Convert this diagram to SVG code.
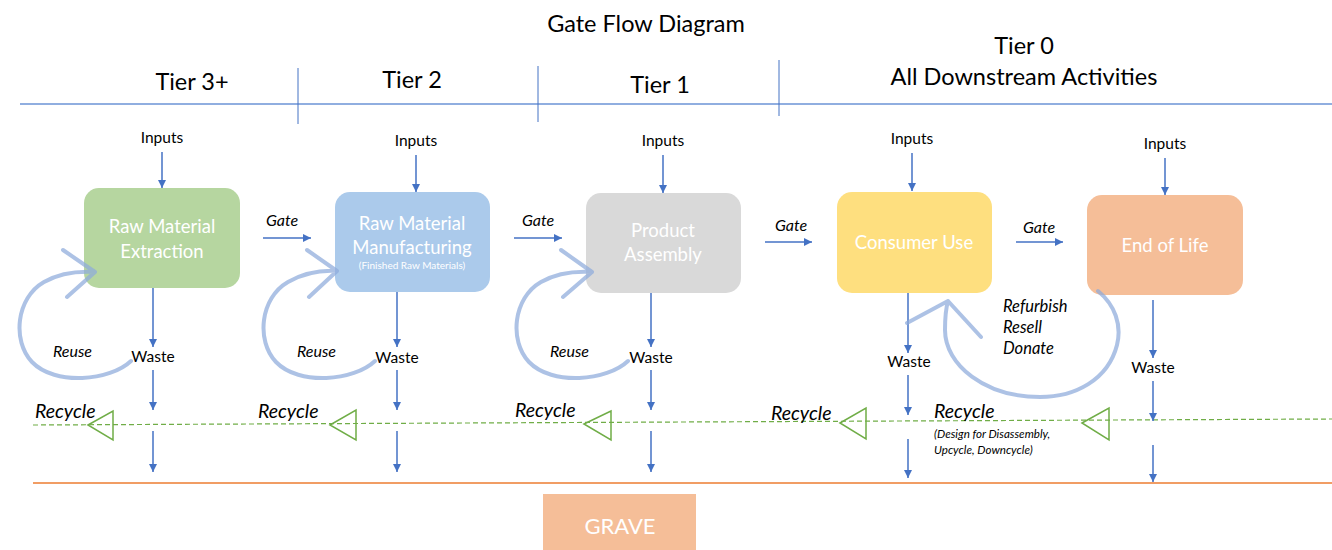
<svg xmlns="http://www.w3.org/2000/svg" width="1332" height="550" viewBox="0 0 1332 550">
<defs>
<marker id="ah" viewBox="0 0 8 8" refX="8" refY="4" markerWidth="8" markerHeight="8" markerUnits="userSpaceOnUse" orient="auto"><path d="M0,0 L8,4 L0,8 z" fill="#4472c4"/></marker>
<style>
text{font-family:Lato,"Open Sans","Liberation Sans",sans-serif}
.hdr{font-size:23.5px;fill:#000;text-anchor:middle}
.lbl{font-size:15.5px;fill:#000;text-anchor:middle}
.it{font-style:italic;fill:#000}
.box{font-size:18.5px;fill:#fff;text-anchor:middle}
.arr{stroke:#4472c4;stroke-width:1.5;fill:none;marker-end:url(#ah)}
.loop{stroke:#8eaadb;stroke-width:4;fill:none;opacity:0.72;stroke-linecap:round;stroke-linejoin:round}
.tri{fill:none;stroke:#70ad47;stroke-width:1.5}
.div{stroke:#4472c4;stroke-width:1}
</style>
</defs>
<rect width="1332" height="550" fill="#fff"/>

<g id="header">
<text class="hdr" x="646" y="32">Gate Flow Diagram</text>
<text class="hdr" x="192" y="90">Tier 3+</text>
<text class="hdr" x="412" y="88">Tier 2</text>
<text class="hdr" x="660" y="93">Tier 1</text>
<text class="hdr" x="1024" y="54">Tier 0</text>
<text class="hdr" x="1024" y="85">All Downstream Activities</text>
<line x1="20" y1="104" x2="1332" y2="104" stroke="#6b93d6" stroke-width="1.5"/>
<line class="div" x1="298" y1="68" x2="298" y2="124"/>
<line class="div" x1="538" y1="66" x2="538" y2="122"/>
<line class="div" x1="779" y1="60" x2="779" y2="116"/>
<line x1="33" y1="483" x2="1332" y2="483" stroke="#ed7d31" stroke-width="1.3"/>
<line x1="33" y1="425" x2="1332" y2="419" stroke="#70ad47" stroke-width="1.2" stroke-dasharray="5,3"/>
</g>

<g id="node-extraction">
<rect x="84" y="188" width="156" height="100" rx="15" fill="#b6d6a0"/>
<text class="box" x="162" y="233">Raw Material</text>
<text class="box" x="162" y="258">Extraction</text>
</g>
<g id="node-manufacturing">
<rect x="335" y="192" width="155" height="100" rx="15" fill="#abcaeb"/>
<text class="box" x="412" y="230">Raw Material</text>
<text class="box" x="412" y="254">Manufacturing</text>
<text x="412" y="269" font-size="10" fill="#fff" text-anchor="middle">(Finished Raw Materials)</text>
</g>
<g id="node-assembly">
<rect x="586" y="193" width="155" height="100" rx="15" fill="#d9d9d9"/>
<text class="box" x="663" y="237">Product</text>
<text class="box" x="663" y="261">Assembly</text>
</g>
<g id="node-consumer">
<rect x="837" y="192" width="155" height="101" rx="15" fill="#fedf7f"/>
<text class="box" x="914" y="249">Consumer Use</text>
</g>
<g id="node-eol">
<rect x="1087" y="195" width="156" height="100" rx="15" fill="#f5be98"/>
<text class="box" x="1165" y="252">End of Life</text>
</g>
<g id="node-grave">
<rect x="543" y="494" width="153" height="56" fill="#f5be98"/>
<text x="620" y="534" font-size="22" fill="#fff" text-anchor="middle">GRAVE</text>
</g>

<g id="labels">
<text class="lbl" x="162" y="143">Inputs</text>
<text class="lbl" x="416" y="146">Inputs</text>
<text class="lbl" x="663" y="146">Inputs</text>
<text class="lbl" x="912" y="144">Inputs</text>
<text class="lbl" x="1165" y="149">Inputs</text>
<text class="lbl" x="153" y="362">Waste</text>
<text class="lbl" x="397" y="363">Waste</text>
<text class="lbl" x="651" y="363">Waste</text>
<text class="lbl" x="909" y="367">Waste</text>
<text class="lbl" x="1153" y="373">Waste</text>
<text class="it" x="266" y="226" font-size="16">Gate</text>
<text class="it" x="522" y="226" font-size="16">Gate</text>
<text class="it" x="775" y="231" font-size="16">Gate</text>
<text class="it" x="1023" y="233" font-size="16">Gate</text>
<text class="it" x="53" y="357" font-size="16">Reuse</text>
<text class="it" x="297" y="357" font-size="16">Reuse</text>
<text class="it" x="550" y="357" font-size="16">Reuse</text>
<text class="it" x="1003" y="312" font-size="16.5">Refurbish</text>
<text class="it" x="1003" y="333" font-size="16.5">Resell</text>
<text class="it" x="1003" y="354" font-size="16.5">Donate</text>
<text class="it" x="35" y="418" font-size="19.5">Recycle</text>
<text class="it" x="258" y="418" font-size="19.5">Recycle</text>
<text class="it" x="515" y="417" font-size="19.5">Recycle</text>
<text class="it" x="771" y="420" font-size="19.5">Recycle</text>
<text class="it" x="934" y="418" font-size="19.5">Recycle</text>
<text class="it" x="934" y="438" font-size="11.6">(Design for Disassembly,</text>
<text class="it" x="934" y="454" font-size="11.6">Upcycle, Downcycle)</text>
</g>

<g id="connectors">
<line class="arr" x1="162" y1="152" x2="162" y2="188"/>
<line class="arr" x1="416" y1="155" x2="416" y2="192"/>
<line class="arr" x1="663" y1="155" x2="663" y2="193"/>
<line class="arr" x1="912" y1="153" x2="912" y2="191"/>
<line class="arr" x1="1165" y1="158" x2="1165" y2="195"/>

<line class="arr" x1="263" y1="238" x2="311" y2="238"/>
<line class="arr" x1="514" y1="238" x2="562" y2="238"/>
<line class="arr" x1="765" y1="242" x2="812" y2="242"/>
<line class="arr" x1="1016" y1="242" x2="1063" y2="242"/>

<line class="arr" x1="153" y1="288" x2="153" y2="347"/>
<line class="arr" x1="153" y1="370" x2="153" y2="410"/>
<line class="arr" x1="153" y1="431" x2="153" y2="472"/>
<line class="arr" x1="397" y1="292" x2="397" y2="347"/>
<line class="arr" x1="397" y1="370" x2="397" y2="410"/>
<line class="arr" x1="397" y1="431" x2="397" y2="472"/>
<line class="arr" x1="651" y1="293" x2="651" y2="347"/>
<line class="arr" x1="651" y1="370" x2="651" y2="410"/>
<line class="arr" x1="651" y1="431" x2="651" y2="472"/>
<line class="arr" x1="908" y1="293" x2="908" y2="353"/>
<line class="arr" x1="908" y1="375" x2="908" y2="415"/>
<line class="arr" x1="908" y1="439" x2="908" y2="478"/>
<line class="arr" x1="1153" y1="300" x2="1153" y2="358"/>
<line class="arr" x1="1153" y1="381" x2="1153" y2="421"/>
<line class="arr" x1="1153" y1="445" x2="1153" y2="482"/>

<path class="loop" d="M131,361 C110,381 55,386 32,362 C12,341 16,298 44,282 C60,273 78,271 95,272 M63,250 L95,272 L67,297"/>
<path class="loop" d="M375,361 C354,381 299,386 276,362 C256,341 260,298 288,282 C304,273 320,270 337,271 M307,250 L337,271 L309,297"/>
<path class="loop" d="M628,361 C607,381 552,386 529,362 C509,341 513,298 541,282 C557,273 575,271 592,272 M561,250 L592,272 L563,297"/>
<path class="loop" d="M1098,291 C1115,305 1122,325 1117,345 C1108,380 1075,397 1040,397 C985,397 945,365 945,330 C945,318 946,308 948,301 M907,323 L948,301 L981,337"/>

<polygon class="tri" points="88,425 113,411 113,440"/>
<polygon class="tri" points="330,425 356,410 356,440"/>
<polygon class="tri" points="584,424 611,411 611,440"/>
<polygon class="tri" points="840,423 866,408 866,439"/>
<polygon class="tri" points="1082,423 1109,408 1109,440"/>
</g>
</svg>
